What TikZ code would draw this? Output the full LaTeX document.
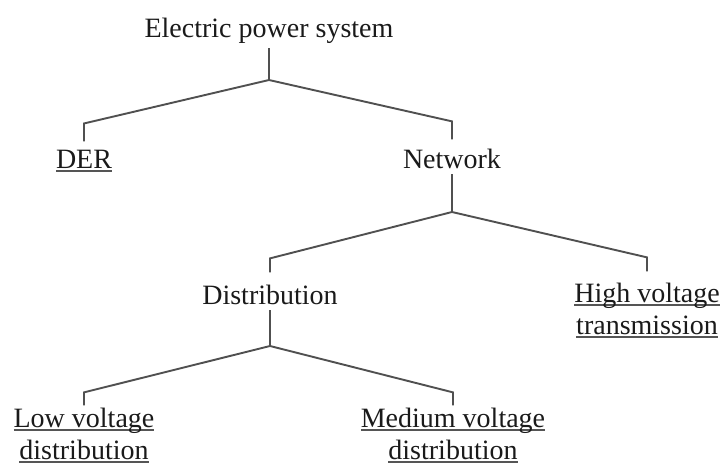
\documentclass[tikz,border=0pt]{standalone}
\usepackage{fontspec}
\setmainfont{Liberation Serif}
\definecolor{txtblack}{HTML}{1A1A1A}
\definecolor{linegray}{HTML}{505050}
\definecolor{ulgray}{HTML}{555555}
% underlined leaf label
\newcommand{\leaf}[1]{\setbox0\hbox{#1}\rlap{\color{ulgray}\rule[-4pt]{\wd0}{1.8pt}}\box0}

\begin{document}
\begin{tikzpicture}[x=1pt,y=-1pt,
  every node/.style={font=\fontsize{28}{32}\selectfont,text=txtblack,inner sep=0pt,anchor=base,align=center},
  branch/.style={draw=linegray,line width=1.9pt}]
\useasboundingbox (0,0) rectangle (726,466);

\node (eps) at (269,37) {Electric power system};
\node (der) at (84,168) {\leaf{DER}};
\node (net) at (452,168) {Network};
\node (dist) at (270,304) {Distribution};
\node (hv) at (647,334) {\leaf{High voltage}\\\leaf{transmission}};
\node (lv) at (84,459) {\leaf{Low voltage}\\\leaf{distribution}};
\node (mv) at (453,459) {\leaf{Medium voltage}\\\leaf{distribution}};

\coordinate (j1) at (269,80);
\coordinate (j2) at (452,212);
\coordinate (j3) at (270,346);

\draw[branch] ([yshift=-5pt]eps.south) -- (j1);
\draw[branch] (j1) -- ([yshift=26pt]der.north) -- ([yshift=8pt]der.north);
\draw[branch] (j1) -- ([yshift=27pt]net.north) -- ([yshift=9pt]net.north);

\draw[branch] ([yshift=-6pt]net.south) -- (j2);
\draw[branch] (j2) -- ([yshift=26pt]dist.north) -- ([yshift=12pt]dist.north);
\draw[branch] (j2) -- ([yshift=25pt]hv.north) -- ([yshift=11pt]hv.north);

\draw[branch] ([yshift=-6pt]dist.south) -- (j3);
\draw[branch] (j3) -- ([yshift=15pt]lv.north) -- ([yshift=2pt]lv.north);
\draw[branch] (j3) -- ([yshift=15pt]mv.north) -- ([yshift=2pt]mv.north);
\end{tikzpicture}
\end{document}
